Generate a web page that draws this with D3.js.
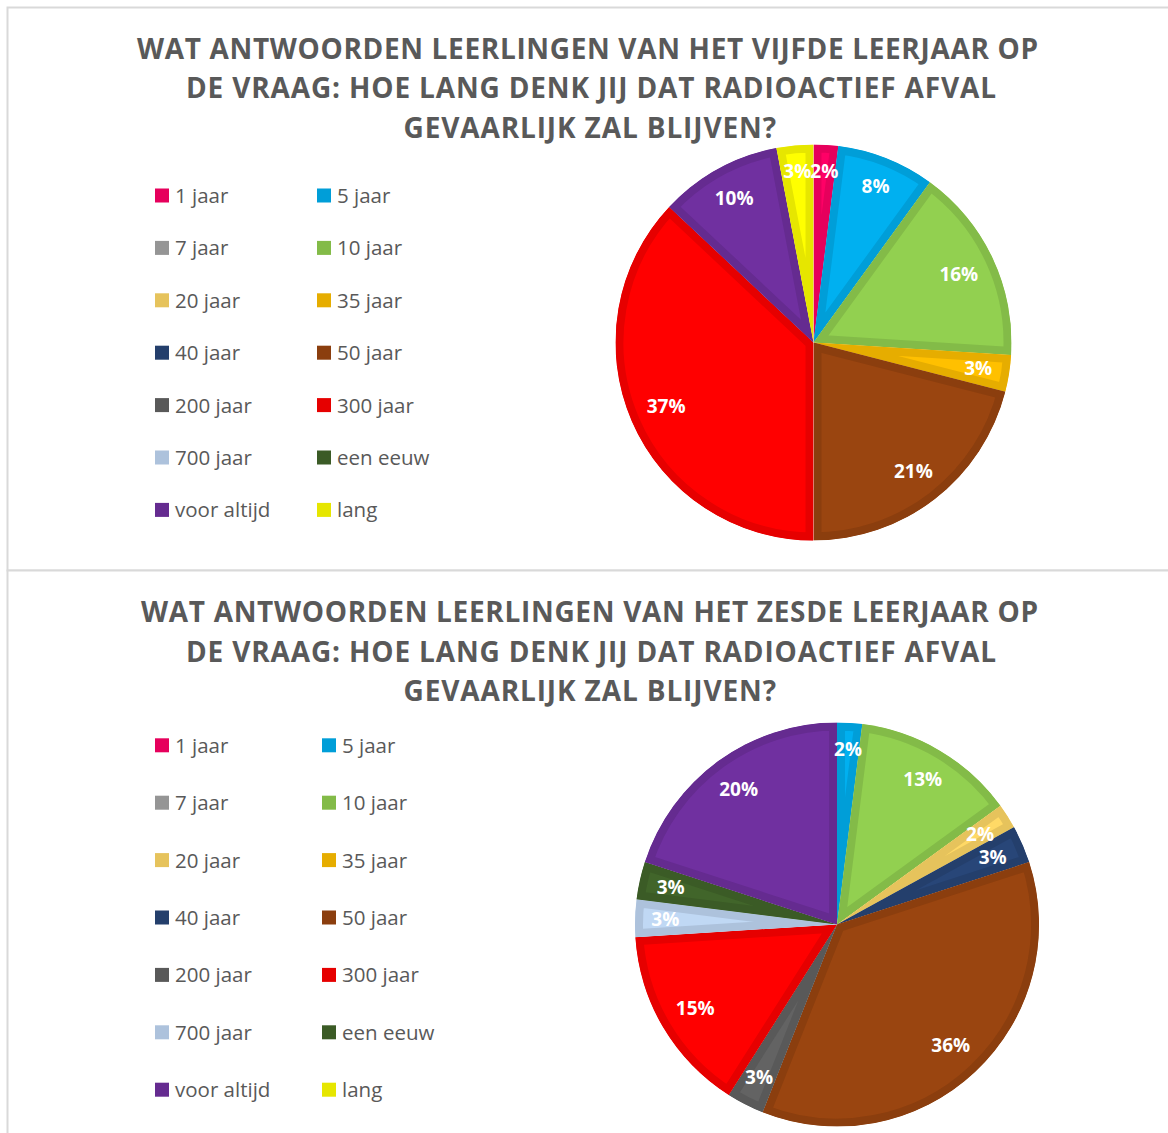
<!DOCTYPE html>
<html>
<head>
<meta charset="utf-8">
<script src="https://cdn.jsdelivr.net/npm/d3@7"></script>
<style>
  body { margin: 0; background: #fff; }
  svg { display: block; font-family: "Open Sans", sans-serif; }
</style>
</head>
<body>
<svg id="chart"></svg>
<script>
// data (percentages shown on the labels)
const categories = ["1 jaar", "5 jaar", "7 jaar", "10 jaar", "20 jaar", "35 jaar", "40 jaar",
  "50 jaar", "200 jaar", "300 jaar", "700 jaar", "een eeuw", "voor altijd", "lang"];
const vijfde = [2, 8, 0, 16, 0, 3, 0, 21, 0, 37, 0, 0, 10, 3];
const zesde = [0, 2, 0, 13, 2, 0, 3, 36, 3, 15, 3, 3, 20, 0];
const colors = ["#FF0066", "#00B0F0", "#A6A6A6", "#92D050", "#FFD966", "#FFC000", "#284678",
  "#9A4510", "#636363", "#FF0000", "#C0D8F4", "#41652A", "#7030A0", "#FFFF00"];
const titleVijfde = ["WAT ANTWOORDEN LEERLINGEN VAN HET VIJFDE LEERJAAR OP",
  "DE VRAAG: HOE LANG DENK JIJ DAT RADIOACTIEF AFVAL", "GEVAARLIJK ZAL BLIJVEN?"];
const titleZesde = ["WAT ANTWOORDEN LEERLINGEN VAN HET ZESDE LEERJAAR OP",
  "DE VRAAG: HOE LANG DENK JIJ DAT RADIOACTIEF AFVAL", "GEVAARLIJK ZAL BLIJVEN?"];

const width = 1168;
const height = 1133;
const textColor = "#595959";

// border colour = fill darkened by 10%
const edge = (c) => {
  const r = d3.rgb(c);
  return d3.rgb(r.r * 0.9, r.g * 0.9, r.b * 0.9).formatHex();
};

const svg = d3.select("#chart").attr("width", width).attr("height", height);
const defs = svg.append("defs");

function drawPanel(cfg) {
  const g = svg.append("g");

  g.append("rect")
    .attr("x", 7.5)
    .attr("y", cfg.top + 0.5)
    .attr("width", 1300)
    .attr("height", cfg.panelH)
    .attr("fill", "#fff")
    .attr("stroke", "#D9D9D9")
    .attr("stroke-width", 2);

  // title, three centred lines
  cfg.title.forEach((line, i) => {
    const t = cfg.titlePos[i];
    g.append("text")
      .attr("x", t[0])
      .attr("y", t[2])
      .attr("textLength", t[1] - t[0])
      .attr("lengthAdjust", "spacing")
      .style("font-size", "28px")
      .style("font-weight", 700)
      .style("fill", textColor)
      .text(line);
  });

  // legend, two columns
  const legend = g.append("g");
  categories.forEach((name, i) => {
    const row = Math.floor(i / 2);
    const col = i % 2;
    const x = cfg.legendX[col];
    const y = cfg.legendY + row * cfg.legendStep;
    legend.append("rect")
      .attr("x", x)
      .attr("y", y - 7)
      .attr("width", 14)
      .attr("height", 14)
      .attr("fill", edge(colors[i]));
    legend.append("text")
      .attr("x", x + 20)
      .attr("y", y + 7.5)
      .style("font-size", "20.5px")
      .style("fill", textColor)
      .text(name);
  });

  // pie
  const pie = d3.pie().sort(null).value((d) => d.value);
  const arcs = pie(categories.map((c, i) => ({ name: c, value: cfg.values[i], i: i })))
    .filter((d) => d.data.value > 0);
  const arc = d3.arc().innerRadius(0).outerRadius(cfg.r);

  const pg = g.append("g").attr("transform", "translate(" + cfg.cx + "," + cfg.cy + ")");

  arcs.forEach((d) => {
    const id = cfg.id + "-clip-" + d.data.i;
    defs.append("clipPath").attr("id", id).append("path").attr("d", arc(d));
    pg.append("path")
      .attr("d", arc(d))
      .attr("clip-path", "url(#" + id + ")")
      .attr("fill", colors[d.data.i])
      .attr("stroke", edge(colors[d.data.i]))
      .attr("stroke-width", 16)
      .attr("stroke-linejoin", "miter");
  });

  // labels at the inside end: the text box is pulled in so it stays inside the rim
  const r0 = cfg.r - 16;
  pg.selectAll("text.lbl")
    .data(arcs)
    .enter()
    .append("text")
    .attr("class", "lbl")
    .attr("dy", "0.36em")
    .style("text-anchor", "middle")
    .style("font-size", "19px")
    .style("font-weight", 700)
    .style("fill", "#fff")
    .text((d) => d.data.value + "%")
    .attr("transform", function (d) {
      const a = (d.startAngle + d.endAngle) / 2;
      const ux = Math.sin(a);
      const uy = -Math.cos(a);
      const w = this.getComputedTextLength();
      const dist = r0 - (Math.abs(ux) * w / 2 + Math.abs(uy) * 9);
      return "translate(" + ux * dist + "," + uy * dist + ")";
    });
}

drawPanel({
  id: "vijfde",
  top: 7,
  panelH: 563,
  title: titleVijfde,
  titlePos: [[137, 1038, 58.5], [186, 996, 98.3], [403.5, 776, 137.8]],
  legendX: [155, 317],
  legendY: 195.5,
  legendStep: 52.4,
  values: vijfde,
  cx: 813.5,
  cy: 342.5,
  r: 198
});

drawPanel({
  id: "zesde",
  top: 570,
  panelH: 700,
  title: titleZesde,
  titlePos: [[141, 1038, 621.7], [186, 996, 661.5], [403.5, 776, 701]],
  legendX: [155, 322],
  legendY: 745.3,
  legendStep: 57.4,
  values: zesde,
  cx: 837,
  cy: 924.5,
  r: 202
});
</script>
</body>
</html>
